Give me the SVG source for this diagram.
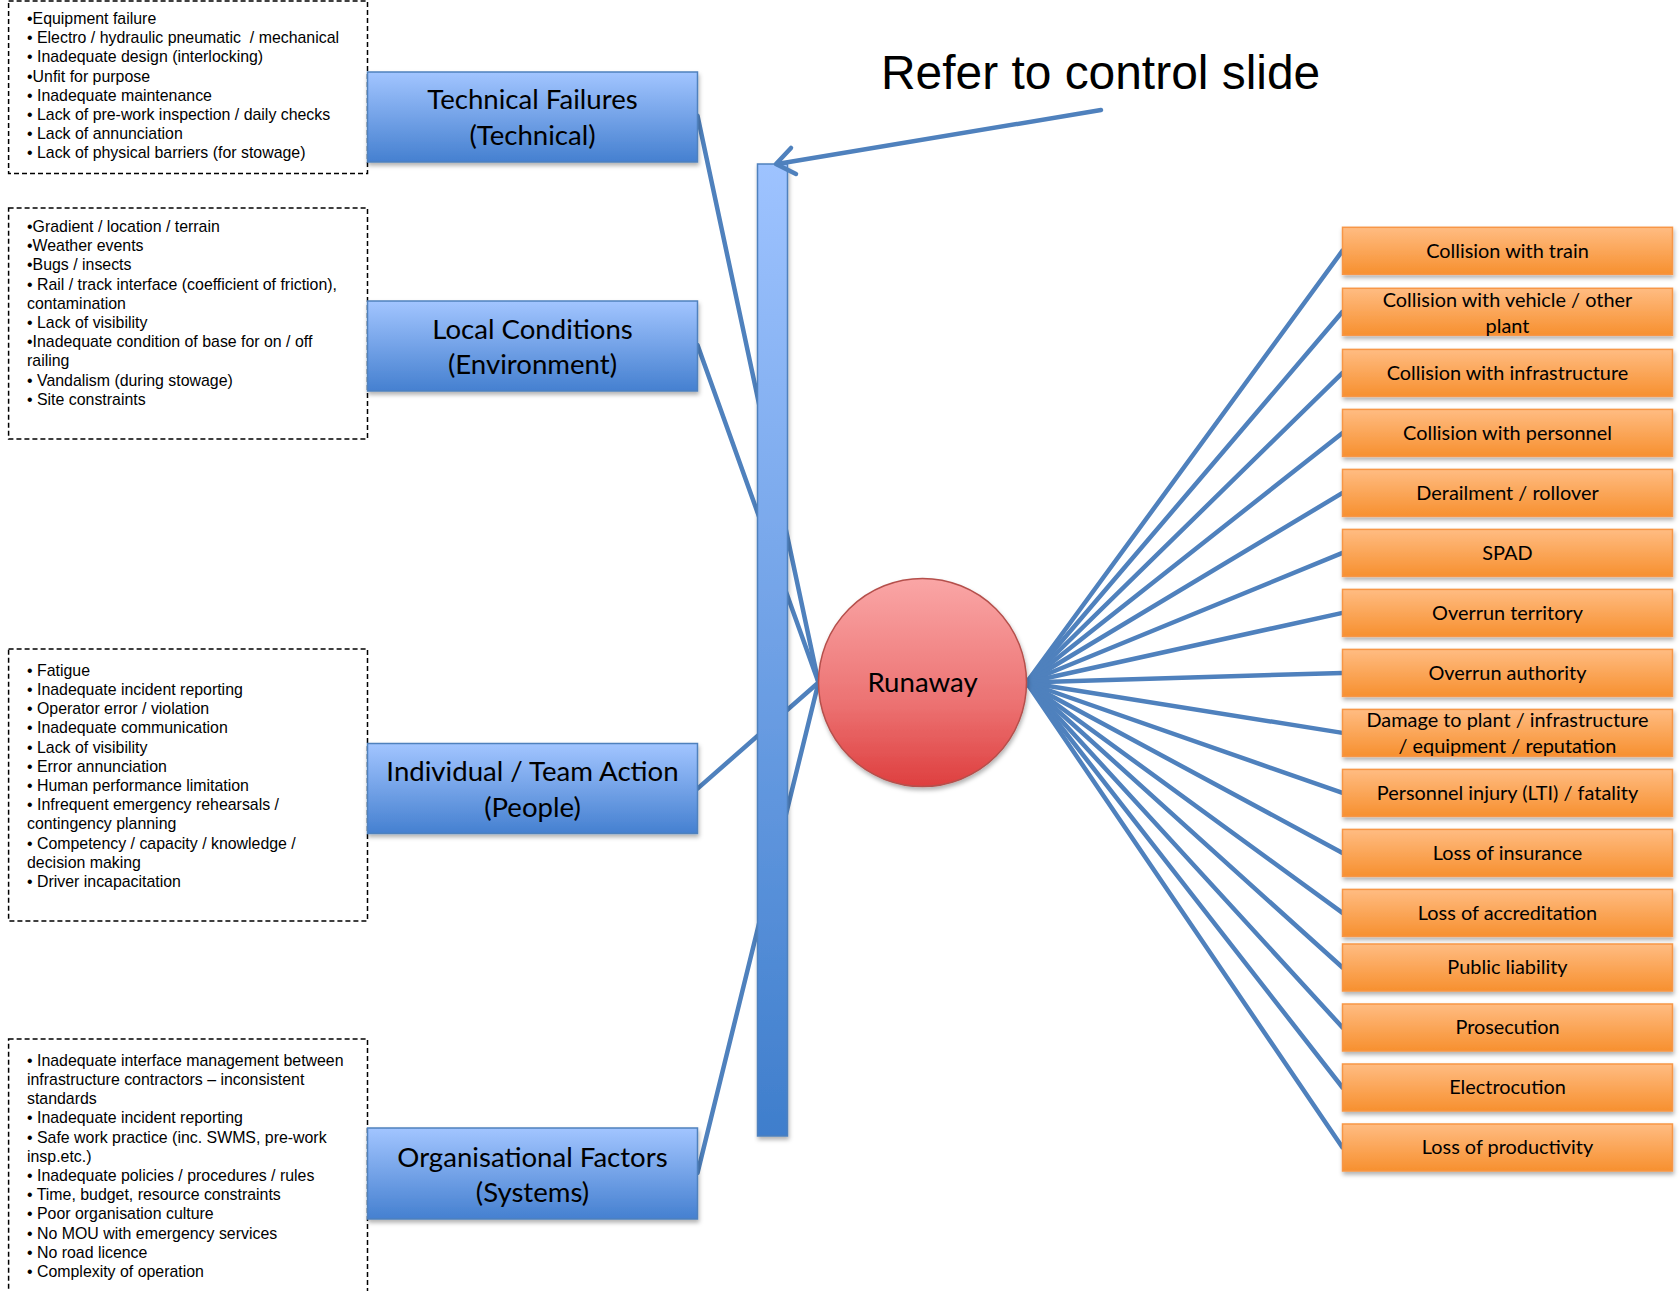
<svg xmlns="http://www.w3.org/2000/svg" width="1680" height="1291" viewBox="0 0 1680 1291">
<defs>
<linearGradient id="gBlue" x1="0" y1="0" x2="0" y2="1"><stop offset="0" stop-color="#A2C5FF"/><stop offset="1" stop-color="#4580D0"/></linearGradient>
<linearGradient id="gBar" x1="0" y1="0" x2="0" y2="1"><stop offset="0" stop-color="#9EC3FF"/><stop offset="1" stop-color="#3F7ECC"/></linearGradient>
<linearGradient id="gOrange" x1="0" y1="0" x2="0" y2="1"><stop offset="0" stop-color="#FFBC82"/><stop offset="1" stop-color="#F7902F"/></linearGradient>
<linearGradient id="gRed" x1="0" y1="0" x2="0" y2="1"><stop offset="0" stop-color="#FAA6A6"/><stop offset="0.6" stop-color="#EC7272"/><stop offset="1" stop-color="#DE3F3F"/></linearGradient>
<filter id="sh" x="-10%" y="-10%" width="130%" height="140%"><feDropShadow dx="1" dy="3" stdDeviation="2" flood-color="#000" flood-opacity="0.3"/></filter>
<style>
.dash{fill:#fff;stroke:#000;stroke-width:1.5;stroke-dasharray:5,3}
.list{font-family:"Liberation Sans",Arial,sans-serif;font-size:15.9px;fill:#000;white-space:pre}
.bbox{fill:url(#gBlue);stroke:#4F81BD;stroke-width:1.5}
.btxt{font-family:Lato,"Noto Sans",sans-serif;font-size:27.6px;fill:#000;text-anchor:middle}
.obox{fill:url(#gOrange);stroke:#F79646;stroke-width:1.5}
.otxt{font-family:Lato,"Noto Sans",sans-serif;font-size:19.9px;fill:#000;text-anchor:middle}
.con{stroke:#4F81BD;stroke-width:4.5;fill:none;stroke-linecap:round;stroke-linejoin:round}
</style>
</defs>
<rect width="1680" height="1291" fill="#fff"/>

<g id="connectors">
<line class="con" x1="697.5" y1="115.7" x2="818.5" y2="682.5"/>
<line class="con" x1="697.5" y1="345" x2="818.5" y2="682.5"/>
<line class="con" x1="697.5" y1="788.6" x2="818.5" y2="682.5"/>
<line class="con" x1="697.5" y1="1173" x2="818.5" y2="682.5"/>
<line class="con" x1="1026.5" y1="682.5" x2="1342.5" y2="250.7"/>
<line class="con" x1="1026.5" y1="682.5" x2="1342.5" y2="311.8"/>
<line class="con" x1="1026.5" y1="682.5" x2="1342.5" y2="372.9"/>
<line class="con" x1="1026.5" y1="682.5" x2="1342.5" y2="432.9"/>
<line class="con" x1="1026.5" y1="682.5" x2="1342.5" y2="492.9"/>
<line class="con" x1="1026.5" y1="682.5" x2="1342.5" y2="552.9"/>
<line class="con" x1="1026.5" y1="682.5" x2="1342.5" y2="612.9"/>
<line class="con" x1="1026.5" y1="682.5" x2="1342.5" y2="672.9"/>
<line class="con" x1="1026.5" y1="682.5" x2="1342.5" y2="732.9"/>
<line class="con" x1="1026.5" y1="682.5" x2="1342.5" y2="792.9"/>
<line class="con" x1="1026.5" y1="682.5" x2="1342.5" y2="852.9"/>
<line class="con" x1="1026.5" y1="682.5" x2="1342.5" y2="912.9"/>
<line class="con" x1="1026.5" y1="682.5" x2="1342.5" y2="967.5"/>
<line class="con" x1="1026.5" y1="682.5" x2="1342.5" y2="1027.5"/>
<line class="con" x1="1026.5" y1="682.5" x2="1342.5" y2="1087.5"/>
<line class="con" x1="1026.5" y1="682.5" x2="1342.5" y2="1147.5"/>
</g>

<g id="list-technical">
<rect class="dash" x="8.6" y="1" width="358.9" height="172.6"/>
<text class="list" x="27" y="24">•Equipment failure</text>
<text class="list" x="27" y="43.2">• Electro / hydraulic pneumatic  / mechanical</text>
<text class="list" x="27" y="62.4">• Inadequate design (interlocking)</text>
<text class="list" x="27" y="81.6">•Unfit for purpose</text>
<text class="list" x="27" y="100.8">• Inadequate maintenance</text>
<text class="list" x="27" y="120">• Lack of pre-work inspection / daily checks</text>
<text class="list" x="27" y="139.2">• Lack of annunciation</text>
<text class="list" x="27" y="158.4">• Lack of physical barriers (for stowage)</text>
</g>

<g id="list-local">
<rect class="dash" x="8.6" y="208" width="358.9" height="231"/>
<text class="list" x="27" y="232">•Gradient / location / terrain</text>
<text class="list" x="27" y="251.2">•Weather events</text>
<text class="list" x="27" y="270.4">•Bugs / insects</text>
<text class="list" x="27" y="289.6">• Rail / track interface (coefficient of friction),</text>
<text class="list" x="27" y="308.8">contamination</text>
<text class="list" x="27" y="328">• Lack of visibility</text>
<text class="list" x="27" y="347.2">•Inadequate condition of base for on / off</text>
<text class="list" x="27" y="366.4">railing</text>
<text class="list" x="27" y="385.6">• Vandalism (during stowage)</text>
<text class="list" x="27" y="404.8">• Site constraints</text>
</g>

<g id="list-individual">
<rect class="dash" x="8.6" y="649" width="358.9" height="272"/>
<text class="list" x="27" y="675.7">• Fatigue</text>
<text class="list" x="27" y="694.9">• Inadequate incident reporting</text>
<text class="list" x="27" y="714.1">• Operator error / violation</text>
<text class="list" x="27" y="733.3">• Inadequate communication</text>
<text class="list" x="27" y="752.5">• Lack of visibility</text>
<text class="list" x="27" y="771.7">• Error annunciation</text>
<text class="list" x="27" y="790.9">• Human performance limitation</text>
<text class="list" x="27" y="810.1">• Infrequent emergency rehearsals /</text>
<text class="list" x="27" y="829.3">contingency planning</text>
<text class="list" x="27" y="848.5">• Competency / capacity / knowledge /</text>
<text class="list" x="27" y="867.7">decision making</text>
<text class="list" x="27" y="886.9">• Driver incapacitation</text>
</g>

<g id="list-organisational">
<rect class="dash" x="8.6" y="1039" width="358.9" height="270"/>
<text class="list" x="27" y="1065.7">• Inadequate interface management between</text>
<text class="list" x="27" y="1084.9">infrastructure contractors – inconsistent</text>
<text class="list" x="27" y="1104.1">standards</text>
<text class="list" x="27" y="1123.3">• Inadequate incident reporting</text>
<text class="list" x="27" y="1142.5">• Safe work practice (inc. SWMS, pre-work</text>
<text class="list" x="27" y="1161.7">insp.etc.)</text>
<text class="list" x="27" y="1180.9">• Inadequate policies / procedures / rules</text>
<text class="list" x="27" y="1200.1">• Time, budget, resource constraints</text>
<text class="list" x="27" y="1219.3">• Poor organisation culture</text>
<text class="list" x="27" y="1238.5">• No MOU with emergency services</text>
<text class="list" x="27" y="1257.7">• No road licence</text>
<text class="list" x="27" y="1276.9">• Complexity of operation</text>
</g>

<g id="technical-failures">
<rect class="bbox" x="367.5" y="72" width="330" height="90" filter="url(#sh)"/>
<text class="btxt" x="532.5" y="109">Technical Failures</text>
<text class="btxt" x="532.5" y="144.5">(Technical)</text>
</g>
<g id="local-conditions">
<rect class="bbox" x="367.5" y="301" width="330" height="90" filter="url(#sh)"/>
<text class="btxt" x="532.5" y="338.5">Local Conditions</text>
<text class="btxt" x="532.5" y="373.5">(Environment)</text>
</g>
<g id="individual-team">
<rect class="bbox" x="367.5" y="743.5" width="330" height="90" filter="url(#sh)"/>
<text class="btxt" x="532.5" y="781">Individual / Team Action</text>
<text class="btxt" x="532.5" y="816.5">(People)</text>
</g>
<g id="organisational">
<rect class="bbox" x="367.5" y="1128" width="330" height="91" filter="url(#sh)"/>
<text class="btxt" x="532.5" y="1166.5">Organisational Factors</text>
<text class="btxt" x="532.5" y="1202">(Systems)</text>
</g>

<g id="bar">
<rect x="757.5" y="164" width="30" height="972" fill="url(#gBar)" stroke="#4F81BD" stroke-width="1.5" filter="url(#sh)"/>
</g>

<g id="note">
<text x="881" y="89" font-family="Liberation Sans,Arial,sans-serif" font-size="47.9" fill="#000">Refer to control slide</text>
</g>

<g id="note-arrow">
<line class="con" x1="1101" y1="110" x2="777" y2="164"/>
<path class="con" d="M791,148 L776,164 L796,174"/>
</g>

<g id="runaway">
<circle cx="922.5" cy="682.5" r="104" fill="url(#gRed)" stroke="#B5504C" stroke-width="1.5" filter="url(#sh)"/>
<text class="btxt" x="922.5" y="692">Runaway</text>
</g>

<g id="c1"><rect class="obox" x="1342.5" y="227.3" width="330" height="47" filter="url(#sh)"/><text class="otxt" x="1507.5" y="257.5">Collision with train</text></g>
<g id="c2"><rect class="obox" x="1342.5" y="288.3" width="330" height="47" filter="url(#sh)"/><text class="otxt" x="1507.5" y="306.5">Collision with vehicle / other</text><text class="otxt" x="1507.5" y="332.5">plant</text></g>
<g id="c3"><rect class="obox" x="1342.5" y="349.4" width="330" height="47" filter="url(#sh)"/><text class="otxt" x="1507.5" y="379.7">Collision with infrastructure</text></g>
<g id="c4"><rect class="obox" x="1342.5" y="409.4" width="330" height="47" filter="url(#sh)"/><text class="otxt" x="1507.5" y="439.7">Collision with personnel</text></g>
<g id="c5"><rect class="obox" x="1342.5" y="469.4" width="330" height="47" filter="url(#sh)"/><text class="otxt" x="1507.5" y="499.7">Derailment / rollover</text></g>
<g id="c6"><rect class="obox" x="1342.5" y="529.4" width="330" height="47" filter="url(#sh)"/><text class="otxt" x="1507.5" y="559.7">SPAD</text></g>
<g id="c7"><rect class="obox" x="1342.5" y="589.4" width="330" height="47" filter="url(#sh)"/><text class="otxt" x="1507.5" y="619.7">Overrun territory</text></g>
<g id="c8"><rect class="obox" x="1342.5" y="649.4" width="330" height="47" filter="url(#sh)"/><text class="otxt" x="1507.5" y="679.7">Overrun authority</text></g>
<g id="c9"><rect class="obox" x="1342.5" y="709.4" width="330" height="47" filter="url(#sh)"/><text class="otxt" x="1507.5" y="726.5">Damage to plant / infrastructure</text><text class="otxt" x="1507.5" y="752.5">/ equipment  / reputation</text></g>
<g id="c10"><rect class="obox" x="1342.5" y="769.4" width="330" height="47" filter="url(#sh)"/><text class="otxt" x="1507.5" y="799.7">Personnel injury (LTI) / fatality</text></g>
<g id="c11"><rect class="obox" x="1342.5" y="829.4" width="330" height="47" filter="url(#sh)"/><text class="otxt" x="1507.5" y="859.7">Loss of insurance</text></g>
<g id="c12"><rect class="obox" x="1342.5" y="889.4" width="330" height="47" filter="url(#sh)"/><text class="otxt" x="1507.5" y="919.7">Loss of accreditation</text></g>
<g id="c13"><rect class="obox" x="1342.5" y="944" width="330" height="47" filter="url(#sh)"/><text class="otxt" x="1507.5" y="974.3">Public liability</text></g>
<g id="c14"><rect class="obox" x="1342.5" y="1004" width="330" height="47" filter="url(#sh)"/><text class="otxt" x="1507.5" y="1034.3">Prosecution</text></g>
<g id="c15"><rect class="obox" x="1342.5" y="1064" width="330" height="47" filter="url(#sh)"/><text class="otxt" x="1507.5" y="1094.3">Electrocution</text></g>
<g id="c16"><rect class="obox" x="1342.5" y="1124" width="330" height="47" filter="url(#sh)"/><text class="otxt" x="1507.5" y="1154.3">Loss of productivity</text></g>
</svg>
